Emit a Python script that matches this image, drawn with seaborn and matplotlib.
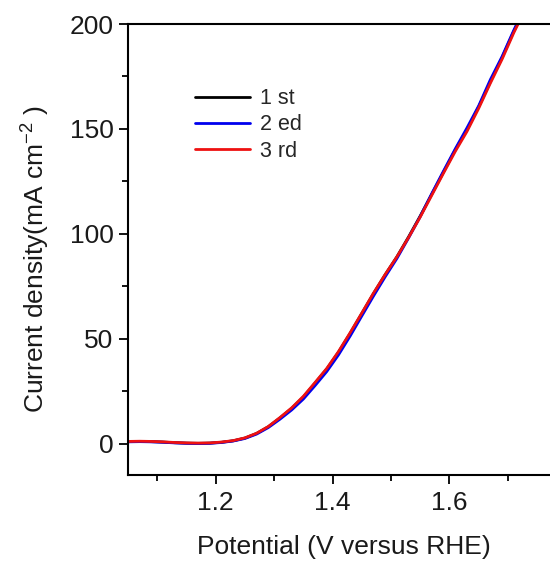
#!/usr/bin/env python3
"""LSV polarization curves for three consecutive scans."""

import pandas as pd
import matplotlib.pyplot as plt
import seaborn as sns
from matplotlib.ticker import MultipleLocator

# Potential (V vs RHE) shared by all three scans
potential = [1.05, 1.07, 1.09, 1.11, 1.13, 1.15, 1.17, 1.19, 1.21, 1.23,
             1.25, 1.27, 1.29, 1.31, 1.33, 1.35, 1.37, 1.39, 1.41, 1.43,
             1.45, 1.47, 1.49, 1.51, 1.53, 1.55, 1.57, 1.59, 1.61, 1.63,
             1.65, 1.67, 1.69, 1.71, 1.73]

# Current density (mA cm-2) for each scan
scan_1st = [0.9, 1.0, 0.9, 0.7, 0.4, 0.2, 0.1, 0.2, 0.6, 1.3,
            2.6, 4.8, 8.0, 12.2, 16.8, 22.2, 28.8, 35.5, 43.5, 52.5,
            62.0, 71.5, 80.5, 89.0, 98.5, 108.5, 119.0, 129.5, 140.0, 149.5,
            160.5, 172.5, 184.0, 196.5, 208.0]
scan_2ed = [0.8, 0.9, 0.8, 0.6, 0.3, 0.1, 0.0, 0.1, 0.5, 1.2,
            2.4, 4.5, 7.6, 11.6, 16.0, 21.2, 27.6, 34.3, 42.2, 51.2,
            60.8, 70.3, 79.5, 88.2, 98.0, 108.2, 119.3, 130.0, 140.5, 150.5,
            161.0, 173.5, 184.5, 197.0, 208.5]
scan_3rd = [1.0, 1.1, 1.0, 0.8, 0.5, 0.3, 0.2, 0.3, 0.7, 1.4,
            2.7, 4.9, 8.1, 12.4, 17.0, 22.5, 29.1, 35.8, 43.8, 52.8,
            62.2, 71.7, 80.6, 89.0, 98.2, 108.0, 118.5, 129.0, 139.3, 148.8,
            159.8, 171.8, 183.2, 195.8, 207.2]

labels = ["1 st", "2 ed", "3 rd"]
colors = ["black", "#0000ee", "#ee1111"]

df = pd.DataFrame({
    "potential": potential * 3,
    "current": scan_1st + scan_2ed + scan_3rd,
    "scan": [labels[0]] * len(potential) + [labels[1]] * len(potential)
    + [labels[2]] * len(potential),
})

sns.set_theme(style="ticks")
plt.rcParams["font.family"] = ["Liberation Sans", "DejaVu Sans"]
plt.rcParams["mathtext.fontset"] = "custom"
plt.rcParams["mathtext.rm"] = "Liberation Sans"
plt.rcParams["mathtext.it"] = "Liberation Sans"

fig = plt.figure(figsize=(5.5, 5.65), dpi=100)
ax = fig.add_axes([0.2327, 0.1593, 0.7673, 0.7982])

sns.lineplot(data=df, x="potential", y="current", hue="scan",
             palette=colors, sort=False, estimator=None, linewidth=2.0, ax=ax)

ax.set_xlim(1.05, 1.772)
ax.set_ylim(-15, 200)
ax.xaxis.set_major_locator(MultipleLocator(0.2))
ax.xaxis.set_minor_locator(MultipleLocator(0.1))
ax.yaxis.set_major_locator(MultipleLocator(50))
ax.yaxis.set_minor_locator(MultipleLocator(25))
ax.set_xticks([1.2, 1.4, 1.6])
ax.set_xticklabels(["1.2", "1.4", "1.6"])

ax.tick_params(which="major", direction="out", length=6.5, width=1.3,
               labelsize=19, color="black", labelcolor="#1a1a1a")
ax.tick_params(which="minor", direction="out", length=4, width=1.3, color="black")
ax.tick_params(axis="x", which="major", pad=5)
ax.tick_params(axis="y", which="major", pad=4)

for side in ["left", "bottom", "top"]:
    ax.spines[side].set_linewidth(1.5)
    ax.spines[side].set_color("black")
ax.spines["right"].set_visible(False)

ax.set_xlabel("Potential (V versus RHE)", fontsize=19, color="#1a1a1a")
ax.set_ylabel("Current density(mA cm$^{-2}$ )", fontsize=19, color="#1a1a1a")
ax.xaxis.set_label_coords(0.511, -0.133)
ax.yaxis.set_label_coords(-0.18, 0.479)

ax.legend(loc="upper left", bbox_to_anchor=(0.159, 0.858), frameon=False,
          fontsize=15.5, handlelength=2.55, handletextpad=0.47, labelspacing=0.25,
          borderpad=0, borderaxespad=0)

fig.savefig("out.png", dpi=100)
